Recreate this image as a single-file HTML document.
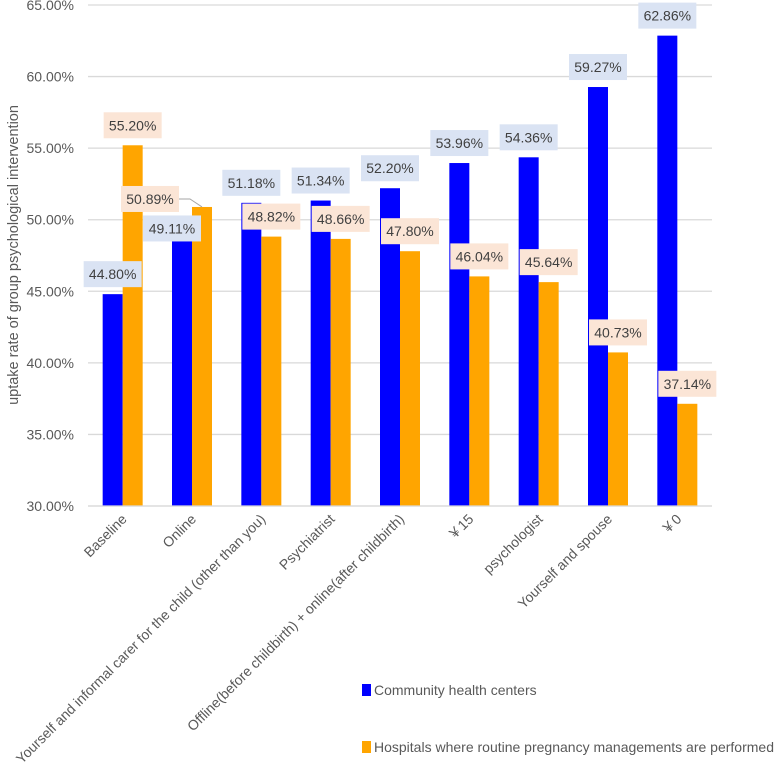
<!DOCTYPE html>
<html><head><meta charset="utf-8"><style>
body{margin:0;background:#fff;}
svg{display:block;font-family:"Liberation Sans","Noto Sans CJK SC",sans-serif;}
</style></head><body>
<svg id="chart" width="778" height="783" viewBox="0 0 778 783"></svg>
<script>
const categories=["Baseline","Online","Yourself and informal carer for the child (other than you)","Psychiatrist","Offline(before childbirth) + online(after childbirth)","￥15","psychologist","Yourself and spouse","￥0"];
const communityValues=[44.80,49.11,51.18,51.34,52.20,53.96,54.36,59.27,62.86];
const hospitalValues=[55.20,50.89,48.82,48.66,47.80,46.04,45.64,40.73,37.14];
const yTicks=[30,35,40,45,50,55,60,65];
const seriesNames=["Community health centers","Hospitals where routine pregnancy managements are performed"];

const NS="http://www.w3.org/2000/svg";
const svg=document.getElementById('chart');
const L=88,R=712,T=5,B=506,yMin=30,yMax=65;
const y=v=>B-(v-yMin)/(yMax-yMin)*(B-T);
const band=(R-L)/categories.length;
const cx=i=>L+band*(i+0.5);
const barW=20;
function el(tag,attrs,parent){const e=document.createElementNS(NS,tag);for(const k in attrs)e.setAttribute(k,attrs[k]);(parent||svg).appendChild(e);return e;}

yTicks.forEach(t=>{
  const g=el('line',{x1:L,x2:R,y1:y(t),y2:y(t),stroke:'#d9d9d9','stroke-width':1.3});
  
  
  const tx=el('text',{x:74,y:y(t)+5,'text-anchor':'end','font-size':14,fill:'#595959'});
  tx.textContent=t.toFixed(2)+'%';
  
  
});
const yt=el('text',{transform:'translate(18,255) rotate(-90)','text-anchor':'middle','font-size':14.5,fill:'#595959'});
yt.textContent='uptake rate of group psychological intervention';



function label(x,yc,text,fill,name){
  const r=el('rect',{x:x-29,y:yc-13,width:58,height:26,fill:fill});
  
  
  const t=el('text',{x:x,y:yc+5,'text-anchor':'middle','font-size':14,fill:'#404040'});
  t.textContent=text;
  
  
}

categories.forEach((c,i)=>{
  const xb=cx(i)-barW, xo=cx(i);
  const b1=el('rect',{x:xb,y:y(communityValues[i]),width:barW,height:B-y(communityValues[i]),fill:'#0000ff'});
  
  
  const b2=el('rect',{x:xo,y:y(hospitalValues[i]),width:barW,height:B-y(hospitalValues[i]),fill:'#ffa500'});
  
  
  const tx=el('text',{transform:`translate(${cx(i)+5},520) rotate(-45)`,'text-anchor':'end','font-size':14,fill:'#595959'});
  tx.textContent=c;
  
  
});
const axis=el('line',{x1:L,x2:R,y1:B,y2:B,stroke:'#d9d9d9','stroke-width':1.3});



categories.forEach((c,i)=>{
  let bx=cx(i)-barW/2, by=y(communityValues[i])-20;
  let ox=cx(i)+barW/2, oy=y(hospitalValues[i])-20;
  if(i===1){
    bx=cx(i)-barW; by=y(communityValues[i])-4;
    ox=cx(i)-barW-22; oy=y(hospitalValues[i])-8;
    const ln=el('polyline',{points:`${ox+29},${oy} ${ox+40},${oy} ${cx(i)+10},${y(hospitalValues[i])}`,fill:'none',stroke:'#a6a6a6','stroke-width':1});
    
    
  }
  label(bx,by,communityValues[i].toFixed(2)+'%','#dae3f3','label-community-'+i);
  label(ox,oy,hospitalValues[i].toFixed(2)+'%','#fbe5d6','label-hospital-'+i);
});

[['#0000ff',690],['#ffa500',747]].forEach((s,k)=>{
  const r=el('rect',{x:362,y:s[1]-6,width:9,height:12,fill:s[0]});
  
  
  const t=el('text',{x:374,y:s[1]+5,'font-size':14,fill:'#595959'});
  t.textContent=seriesNames[k];
  
  
});
</script>
</body></html>
